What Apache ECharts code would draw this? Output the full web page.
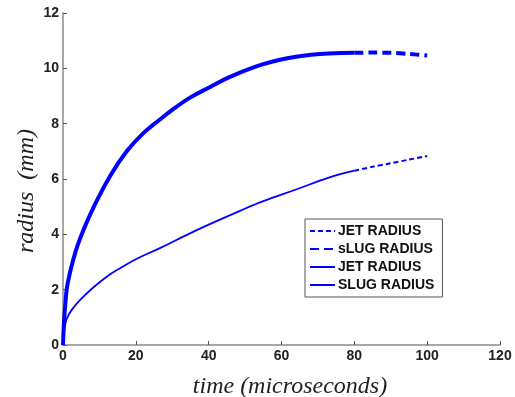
<!DOCTYPE html>
<html>
<head>
<meta charset="utf-8">
<script src="https://cdn.jsdelivr.net/npm/echarts@6/dist/echarts.min.js"></script>
<style>
  html, body { margin: 0; padding: 0; background: #fff; }
  #chart { width: 515px; height: 397px; }
</style>
</head>
<body>
<div id="chart"></div>
<script>
// solid part of the curves, time in microseconds
const jetTimes = [0, 0.3, 0.7, 1.2, 2.4, 4.7, 8.3, 12, 16, 20, 26.6, 34, 40, 48.6, 55, 64, 73, 80]
const jetSolid = [0, 0.5, 0.8, 1.0, 1.27, 1.63, 2.08, 2.47, 2.8, 3.1, 3.5, 3.98, 4.35, 4.85, 5.2, 5.62, 6.05, 6.3]

const slugTimes = [0, 0.3, 0.6, 1, 1.8, 2.8, 4, 5.6, 8.3, 12.9, 17.5, 22, 26.6, 30, 35, 40, 46, 55, 64, 73, 80]
const slugSolid = [0, 0.9, 1.4, 2.0, 2.55, 3.07, 3.6, 4.15, 4.95, 6.1, 7.0, 7.65, 8.15, 8.5, 8.95, 9.3, 9.7, 10.15, 10.42, 10.54, 10.56]

// dashed tail
const dashTimes = [80, 85, 90, 95, 100]
const jetDash = [6.3, 6.44, 6.57, 6.7, 6.83]
const slugDash = [10.56, 10.57, 10.56, 10.52, 10.46]

const xTicks = [0, 20, 40, 60, 80, 100, 120]
const yTicks = [0, 2, 4, 6, 8, 10, 12]

const legendNames = ['JET RADIUS', 'sLUG RADIUS', 'JET RADIUS ', 'SLUG RADIUS']

const pairs = (xs, ys) => xs.map((x, i) => [x, ys[i]])
const BLUE = '#0000ff'

const chart = echarts.init(document.getElementById('chart'))

const axisCommon = {
  type: 'value',
  axisLine: { show: true, lineStyle: { color: '#8a8a8a', width: 1.5 } },
  axisTick: { show: true, inside: true, length: 4, lineStyle: { color: '#555' } },
  splitLine: { show: false },
  axisLabel: { color: '#222', fontFamily: 'Liberation Sans, Arial', fontWeight: 'bold', fontSize: 14, margin: 4 },
  nameTextStyle: { color: '#222', fontFamily: 'Liberation Serif, Times New Roman', fontStyle: 'italic', fontSize: 24 }
}

chart.setOption({
  animation: false,
  backgroundColor: '#fff',
  grid: { left: 63, right: 15, top: 13, bottom: 52, outerBoundsMode: 'none' },
  xAxis: {
    ...axisCommon,
    min: xTicks[0],
    max: xTicks[xTicks.length - 1],
    interval: 20,
    name: 'time (microseconds)',
    nameLocation: 'middle',
    nameGap: 30,
    nameTextStyle: { ...axisCommon.nameTextStyle, padding: [0, 0, 0, 17] }
  },
  yAxis: {
    ...axisCommon,
    min: yTicks[0],
    max: yTicks[yTicks.length - 1],
    interval: 2,
    name: 'radius  (mm)',
    nameLocation: 'middle',
    nameGap: 24,
    nameMoveOverlap: false,
    nameTextStyle: { ...axisCommon.nameTextStyle, padding: [0, 24, 0, 0] }
  },
  legend: {
    orient: 'vertical',
    left: 305,
    top: 219,
    padding: [5, 8, 5, 4],
    itemGap: 4,
    itemWidth: 25,
    itemHeight: 14,
    borderColor: '#555',
    borderWidth: 1,
    backgroundColor: '#fff',
    itemStyle: { opacity: 0 },
    data: legendNames,
    textStyle: { color: '#111', fontFamily: 'Liberation Sans, Arial', fontWeight: 'bold', fontSize: 14, padding: [0, 0, 0, -2] }
  },
  series: [
    {
      name: legendNames[0], type: 'line', data: pairs(dashTimes, jetDash),
      symbol: 'none', smooth: 0.3, lineStyle: { color: BLUE, width: 2, type: [5, 3] }, itemStyle: { color: BLUE }
    },
    {
      name: legendNames[1], type: 'line', data: pairs(dashTimes, slugDash),
      symbol: 'none', smooth: 0.3, lineStyle: { color: BLUE, width: 4, type: [9, 5] }, itemStyle: { color: BLUE }
    },
    {
      name: legendNames[2], type: 'line', data: pairs(jetTimes, jetSolid),
      symbol: 'none', smooth: 0.4, lineStyle: { color: BLUE, width: 1.8 }, itemStyle: { color: BLUE }
    },
    {
      name: legendNames[3], type: 'line', data: pairs(slugTimes, slugSolid),
      symbol: 'none', smooth: 0.4, lineStyle: { color: BLUE, width: 4 }, itemStyle: { color: BLUE }
    }
  ]
})
</script>
</body>
</html>
